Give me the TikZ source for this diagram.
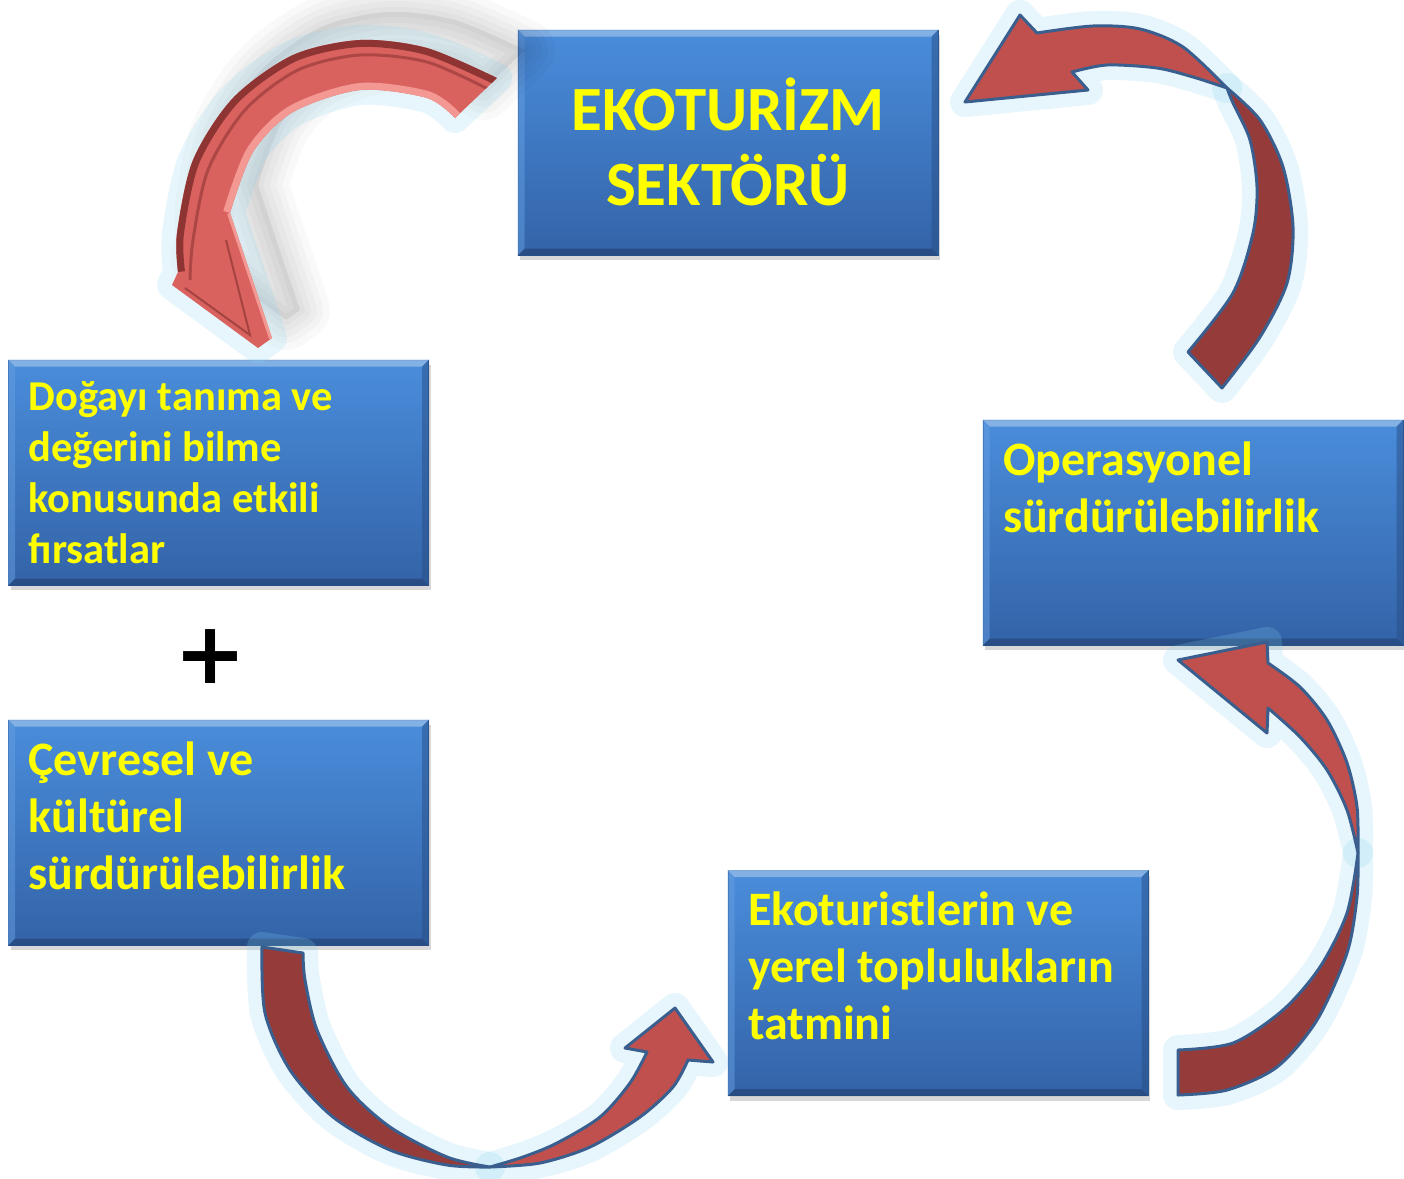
\documentclass[tikz,border=0pt]{standalone}
\usepackage{fontspec}
\setmainfont{Carlito}
\newfontfamily\plusfont{DejaVu Sans}
\usepackage{tikz}
\usetikzlibrary{calc,shadows}
\definecolor{boxtop}{HTML}{4A8DDB}
\definecolor{boxbot}{HTML}{3363A8}
\definecolor{boxline}{HTML}{2D5A96}
\definecolor{txt}{HTML}{FFFF00}
\definecolor{redlight}{HTML}{C0504D}
\definecolor{reddark}{HTML}{953B39}
\definecolor{arrline}{HTML}{3A5F8E}
\definecolor{glowcyan}{HTML}{86D6F0}
\definecolor{salmon}{HTML}{D9625F}
\definecolor{salmonhi}{HTML}{F39893}
\definecolor{salmondk}{HTML}{8E3533}
\tikzset{
  panel/.style={draw=boxline, line width=1pt, top color=boxtop, bottom color=boxbot,
    minimum width=420pt, minimum height=225pt, inner xsep=20pt, inner ysep=15pt,
    text=txt, drop shadow={shadow xshift=2pt, shadow yshift=-5pt, opacity=.3}},
  toptxt/.style={font=\fontsize{63}{75}\selectfont\bfseries},
  smalltxt/.style={font=\fontsize{42.5}{51}\selectfont\bfseries},
  midtxt/.style={font=\fontsize{48}{57}\selectfont\bfseries},
  plussign/.style={font=\plusfont\bfseries\fontsize{86}{86}\selectfont, inner sep=0pt},
  haze/.style={draw=glowcyan, line width=30pt, draw opacity=.2, line join=round,
    postaction={draw=glowcyan, line width=22pt, draw opacity=.35, line join=round},
    postaction={draw=glowcyan, line width=14pt, draw opacity=.6, line join=round},
    postaction={draw=glowcyan, line width=8pt, draw opacity=.9, line join=round}},
  lobelight/.style={fill=redlight, draw=arrline, line width=3pt, line join=round},
  lobedark/.style={fill=reddark, draw=arrline, line width=3pt, line join=round}
}
\newcommand{\bevelbox}[1]{%
  \fill[white!40!boxtop, opacity=.8] (#1.north west) -- (#1.north east) -- ($(#1.north east)+(-7,7)$) -- ($(#1.north west)+(7,7)$) -- cycle;
  \fill[black!30!boxbot, opacity=.7] (#1.south west) -- (#1.south east) -- ($(#1.south east)+(-7,-7)$) -- ($(#1.south west)+(7,-7)$) -- cycle;
  \fill[white!15!boxtop, opacity=.5] (#1.north west) -- ($(#1.north west)+(7,7)$) -- ($(#1.south west)+(7,-7)$) -- (#1.south west) -- cycle;
  \fill[black!20!boxbot, opacity=.5] (#1.north east) -- ($(#1.north east)+(-7,7)$) -- ($(#1.south east)+(-7,-7)$) -- (#1.south east) -- cycle;
}

\begin{document}
\begin{tikzpicture}[x=1pt, y=-1pt]
\useasboundingbox (0,0) rectangle (1404,1178);
\fill[white] (0,0) rectangle (1404,1178);

% boxes
\node[panel, toptxt, text height=85pt, text depth=110pt] (sektor) at (728,142.5)
  {\parbox[t]{380pt}{\centering EKOTURİZM\\SEKTÖRÜ}};
\node[panel, smalltxt, text height=35pt, text depth=160pt] (dogay) at (218.5,472.5)
  {\parbox[t]{380pt}{Doğayı tanıma ve\\değerini bilme\\konusunda etkili\\fırsatlar}};
\node[panel, midtxt, text height=40pt, text depth=155pt] (cevre) at (218.5,832.5)
  {\parbox[t]{380pt}{Çevresel ve\\kültürel\\sürdürülebilirlik}};
\node[panel, midtxt, text height=40pt, text depth=155pt] (opera) at (1193,532.5)
  {\parbox[t]{380pt}{Operasyonel\\sürdürülebilirlik}};
\node[panel, midtxt, text height=40pt, text depth=155pt] (tatmin) at (938,983)
  {\parbox[t]{380pt}{Ekoturistlerin ve\\yerel toplulukların\\tatmini}};
\foreach \b in {sektor,dogay,cevre,opera,tatmin} {\bevelbox{\b}}

\node[plussign] (plus) at (211,657) {+};

% arrow shapes
\path[save path=\aA] plot[smooth] coordinates {(497,78) (427,48) (360,40) (293,55) (233,98) (193,160) (177,233) (178,272)}
  -- (172,285) -- (258,348) -- (272,338)
  -- plot[smooth] coordinates {(230,213) (253,152) (293,112) (360,90) (427,98) (455,118)} -- cycle;
\path[save path=\aBh] plot[smooth] coordinates {(1227,88) (1183,47) (1140,29) (1093,26) (1037,33)}
  -- (1020,15) -- (965,102) -- (1088,90)
  -- plot[smooth] coordinates {(1072,72) (1107,65) (1157,68) (1193,77) (1227,88)} -- cycle;
\path[save path=\aBt] plot[smooth] coordinates {(1227,88) (1260,120) (1283,167) (1293,227) (1287,283) (1260,337) (1222,388)}
  -- plot[smooth] coordinates {(1188,352) (1233,293) (1253,233) (1257,187) (1250,140) (1233,103) (1227,88)} -- cycle;
\path[save path=\aCh] plot[smooth] coordinates {(1358,853) (1357,807) (1347,763) (1327,720) (1300,687) (1268,663)}
  -- (1267,642) -- (1178,660) -- (1267,733)
  -- plot[smooth] coordinates {(1268,708) (1300,737) (1327,770) (1347,810) (1358,853)} -- cycle;
\path[save path=\aCt] plot[smooth] coordinates {(1358,853) (1357,897) (1347,953) (1317,1020) (1277,1067) (1227,1090) (1178,1095)}
  -- plot[smooth] coordinates {(1178,1050) (1233,1043) (1283,1010) (1320,967) (1347,913) (1358,853)} -- cycle;
\path[save path=\aDt] plot[smooth] coordinates {(262,947) (265,1013) (290,1070) (333,1117) (390,1150) (447,1165) (490,1167)}
  -- plot[smooth] coordinates {(490,1167) (447,1157) (390,1127) (347,1087) (317,1030) (305,980) (303,953)} -- cycle;
\path[save path=\aDh] plot[smooth] coordinates {(490,1167) (540,1163) (590,1147) (640,1117) (673,1087) (688,1060)}
  -- (713,1062) -- (675,1008) -- (625,1048)
  -- plot[smooth] coordinates {(647,1052) (630,1083) (600,1117) (557,1143) (523,1157) (490,1167)} -- cycle;

% shadow and glow
\begin{scope}[transform canvas={shift={(28pt,28pt)}}]
  \foreach \w in {60,46,34,22,10} {\path[use path=\aA, fill=black, fill opacity=.012, draw=black, draw opacity=.022, line width=\w pt, line join=round];}
\end{scope}
\foreach \p in {\aA,\aBh,\aBt,\aCh,\aCt,\aDt,\aDh} {\path[haze, use path=\p];}

% 3d arrow
\begin{scope}
  \clip[use path=\aA];
  \fill[salmon] (150,0) rectangle (520,360);
  \draw[salmondk, line width=14pt] plot[smooth] coordinates {(497,78) (427,48) (360,40) (293,55) (233,98) (193,160) (177,233) (178,272)};
  \draw[salmondk!60!salmon, line width=3pt] plot[smooth] coordinates {(490,90) (427,62) (360,55) (298,70) (245,110) (208,170) (193,240) (190,280)};
  \draw[salmonhi, line width=14pt] plot[smooth] coordinates {(230,213) (253,152) (293,112) (360,90) (427,98) (455,118)};
  \draw[salmonhi, line width=6pt] (272,338) -- (230,213);
  \draw[salmondk!70!salmon, line width=2pt] (185,288) -- (250,335) -- (226,240);
\end{scope}

% flat arrows
\path[lobedark, use path=\aBt];
\path[lobelight, use path=\aBh];
\path[lobedark, use path=\aCt];
\path[lobelight, use path=\aCh];
\path[lobedark, use path=\aDt];
\path[lobelight, use path=\aDh];
\end{tikzpicture}
\end{document}
